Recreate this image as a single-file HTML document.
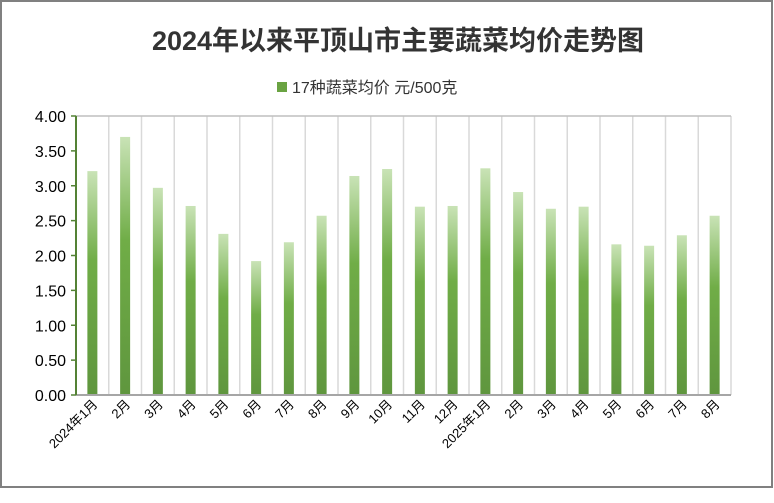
<!DOCTYPE html>
<html><head><meta charset="utf-8"><style>
body{margin:0;background:#fff;}
svg{display:block;font-family:"Liberation Sans","Noto Sans CJK SC",sans-serif;}
</style></head><body>
<svg id="chart" width="774" height="503">
<defs><linearGradient id="g" x1="0" y1="0" x2="0" y2="1">
<stop offset="0" stop-color="#c9e3b6"/><stop offset="0.4" stop-color="#70ad47"/><stop offset="1" stop-color="#5f963e"/>
</linearGradient></defs>
<rect x="1" y="1" width="771" height="486" fill="#fff" stroke="#808080" stroke-width="2"/>
<text x="398" y="50" text-anchor="middle" font-size="27" font-weight="bold" fill="#333">2024年以来平顶山市主要蔬菜均价走势图</text>
<g>
<rect x="277" y="82" width="10" height="10" fill="#6aa342"/>
<text x="292" y="93" font-size="16" fill="#333">17种蔬菜均价 元/500克</text>
</g>
<g id="grid"></g><g id="bars"></g><g id="axes"></g>
</svg>
<script>
const categories=["2024年1月","2月","3月","4月","5月","6月","7月","8月","9月","10月","11月","12月","2025年1月","2月","3月","4月","5月","6月","7月","8月"];
const values=[3.21,3.70,2.97,2.71,2.31,1.92,2.19,2.57,3.14,3.24,2.70,2.71,3.25,2.91,2.67,2.70,2.16,2.14,2.29,2.57];
const yTicks=[0,0.5,1,1.5,2,2.5,3,3.5,4];
const L=76,R=731,T=116,B=395,yMax=4;
const NS="http://www.w3.org/2000/svg";
const bw=(R-L)/categories.length;
const y=v=>B-(v/yMax)*(B-T);
const x=i=>L+bw*(i+0.5);
const mk=(p,t,a)=>{const e=document.createElementNS(NS,t);for(const k in a)e.setAttribute(k,a[k]);p.appendChild(e);return e;};
const grid=document.getElementById('grid'),bars=document.getElementById('bars'),axes=document.getElementById('axes');
for(let i=1;i<=categories.length;i++){
 const gl=mk(grid,'line',{x1:L+bw*i,x2:L+bw*i,y1:T,y2:B,stroke:'#d9d9d9','stroke-width':1.5});
 
 
}
const topBorder=mk(grid,'line',{x1:L,x2:R,y1:T,y2:T,stroke:'#bfbfbf','stroke-width':1.5});


values.forEach((v,i)=>{
 const r=mk(bars,'rect',{x:x(i)-5,y:y(v),width:10,height:B-y(v),fill:'url(#g)'});
 
 
 const t=mk(axes,'text',{x:x(i)+6,y:405,'text-anchor':'end','font-size':13,fill:'#000',transform:`rotate(-45 ${x(i)+6} 405)`});
 t.textContent=categories[i];
 
 
});
yTicks.forEach(v=>{
 const t=mk(axes,'text',{x:66,y:y(v)+6,'text-anchor':'end','font-size':16,fill:'#000'});
 t.textContent=v.toFixed(2);
 
 
 const tk=mk(axes,'line',{x1:L-5,x2:L,y1:y(v),y2:y(v),stroke:'#548235','stroke-width':1.5});
 
 
});
const xa=mk(axes,'line',{x1:L,x2:R,y1:B,y2:B,stroke:'#a6a6a6','stroke-width':2});


const ya=mk(axes,'line',{x1:L,x2:L,y1:T,y2:B,stroke:'#548235','stroke-width':2});


</script>
</body></html>
